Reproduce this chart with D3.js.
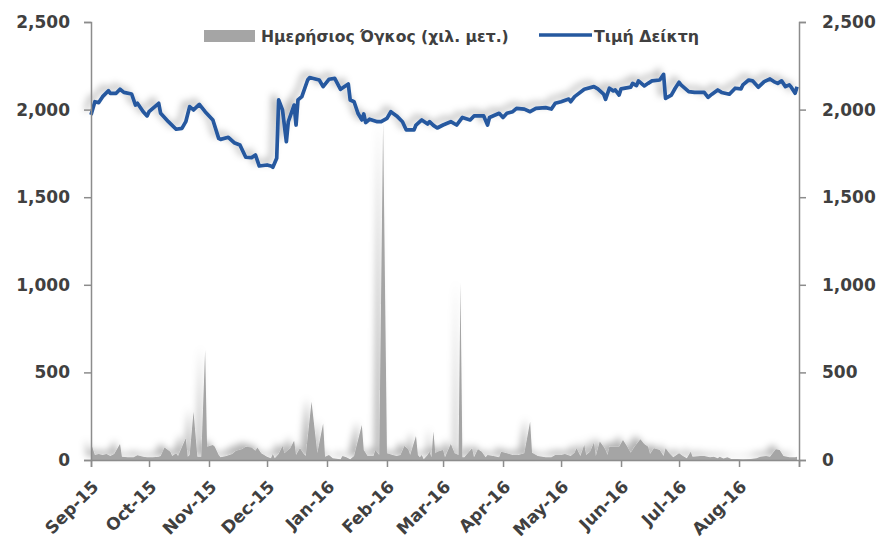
<!DOCTYPE html>
<html>
<head>
<meta charset="utf-8">
<script src="https://cdn.jsdelivr.net/npm/d3@7"></script>
<style>
  body { margin: 0; background: #fff; }
  svg text { font-family: "DejaVu Sans", sans-serif; font-weight: bold; fill: #404040; }
</style>
</head>
<body>
<svg id="chart" width="879" height="540"></svg>
<script>
// Τιμή Δείκτη (index value)
var priceDates = [
  "2015-09-01","2015-09-03","2015-09-05","2015-09-07","2015-09-10","2015-09-11","2015-09-14","2015-09-16","2015-09-18","2015-09-22","2015-09-24","2015-09-25","2015-09-28","2015-09-30",
  "2015-10-01","2015-10-06","2015-10-07","2015-10-11","2015-10-15","2015-10-18","2015-10-20","2015-10-22","2015-10-24","2015-10-27","2015-10-30",
  "2015-11-03","2015-11-06","2015-11-07","2015-11-11","2015-11-14","2015-11-17","2015-11-20","2015-11-23","2015-11-25","2015-11-27",
  "2015-12-01","2015-12-03","2015-12-04","2015-12-06","2015-12-07","2015-12-09","2015-12-11","2015-12-12","2015-12-15","2015-12-16","2015-12-17","2015-12-19","2015-12-22","2015-12-23","2015-12-28","2015-12-30",
  "2016-01-02","2016-01-05","2016-01-08","2016-01-12","2016-01-13","2016-01-15","2016-01-17","2016-01-19","2016-01-20","2016-01-21","2016-01-23","2016-01-27","2016-01-29",
  "2016-02-01","2016-02-03","2016-02-06","2016-02-09","2016-02-11","2016-02-15","2016-02-16","2016-02-19","2016-02-22","2016-02-23","2016-02-25","2016-02-27",
  "2016-03-01","2016-03-05","2016-03-08","2016-03-11","2016-03-15","2016-03-17","2016-03-22","2016-03-24","2016-03-25","2016-03-30",
  "2016-04-01","2016-04-03","2016-04-06","2016-04-08","2016-04-12","2016-04-15","2016-04-18","2016-04-23","2016-04-26","2016-04-28",
  "2016-05-01","2016-05-05","2016-05-06","2016-05-08","2016-05-13","2016-05-18","2016-05-20","2016-05-23","2016-05-24","2016-05-26","2016-05-28","2016-05-29","2016-05-31",
  "2016-06-01","2016-06-06","2016-06-07","2016-06-09","2016-06-10","2016-06-13","2016-06-15","2016-06-17","2016-06-21","2016-06-23","2016-06-24","2016-06-27","2016-06-29",
  "2016-07-01","2016-07-02","2016-07-06","2016-07-09","2016-07-14","2016-07-16","2016-07-18","2016-07-21","2016-07-23","2016-07-27","2016-07-30",
  "2016-08-02","2016-08-03","2016-08-06","2016-08-08","2016-08-11","2016-08-14","2016-08-17","2016-08-19","2016-08-21","2016-08-23","2016-08-25","2016-08-27","2016-08-28","2016-08-30","2016-08-31"
];
var priceValues = [
  1970,2045,2040,2074,2108,2093,2093,2116,2098,2089,2026,2036,1988,1964,
  1988,2036,1979,1931,1888,1893,1931,2017,1998,2030,1988,
  1941,1836,1830,1842,1811,1798,1728,1726,1741,1678,
  1684,1678,1671,1722,2055,1998,1817,1931,2026,1912,2055,2074,2169,2183,2169,2131,
  2173,2178,2116,2146,2055,2045,1979,1941,1975,1926,1945,1931,1931,
  1950,1988,1964,1931,1884,1884,1912,1941,1918,1931,1910,1895,
  1912,1931,1912,1955,1941,1964,1964,1912,1955,1979,
  1955,1979,1988,2007,2003,1988,2007,2011,2003,2036,
  2045,2060,2045,2074,2116,2131,2118,2088,2059,2122,2107,2112,2083,
  2118,2128,2150,2137,2164,2135,2150,2164,2169,2201,2064,2083,2122,
  2156,2141,2103,2098,2098,2070,2088,2112,2098,2088,2122,
  2118,2141,2169,2164,2128,2160,2175,2160,2150,2164,2131,2141,2128,2093,2131
];

// Ημερήσιος Όγκος (daily volume, thousand shares)
var volumeDates = [
  "2015-09-01","2015-09-03","2015-09-05","2015-09-07","2015-09-09","2015-09-11","2015-09-13","2015-09-16","2015-09-17","2015-09-20","2015-09-23","2015-09-25","2015-09-28","2015-09-30",
  "2015-10-03","2015-10-06","2015-10-07","2015-10-09","2015-10-12","2015-10-13","2015-10-15","2015-10-16","2015-10-20","2015-10-21","2015-10-22","2015-10-24","2015-10-26","2015-10-28","2015-10-30","2015-10-31",
  "2015-11-03","2015-11-04","2015-11-06","2015-11-07","2015-11-10","2015-11-13","2015-11-15","2015-11-18","2015-11-20","2015-11-23","2015-11-25","2015-11-26","2015-11-28",
  "2015-12-01","2015-12-03","2015-12-04","2015-12-05","2015-12-07","2015-12-09","2015-12-10","2015-12-13","2015-12-15","2015-12-16","2015-12-18","2015-12-20","2015-12-21","2015-12-24","2015-12-27","2015-12-30","2015-12-31",
  "2016-01-02","2016-01-04","2016-01-08","2016-01-09","2016-01-11","2016-01-13","2016-01-15","2016-01-16","2016-01-19","2016-01-20","2016-01-22","2016-01-25","2016-01-26","2016-01-28","2016-01-30",
  "2016-02-01","2016-02-04","2016-02-06","2016-02-08","2016-02-10","2016-02-12","2016-02-13","2016-02-16","2016-02-17","2016-02-18","2016-02-19","2016-02-20","2016-02-22","2016-02-23","2016-02-24","2016-02-25","2016-02-26","2016-02-27",
  "2016-03-01","2016-03-02","2016-03-05","2016-03-07","2016-03-09","2016-03-10","2016-03-11","2016-03-12","2016-03-16","2016-03-17","2016-03-19","2016-03-21","2016-03-23","2016-03-24","2016-03-27","2016-03-30","2016-03-31",
  "2016-04-03","2016-04-06","2016-04-09","2016-04-12","2016-04-15","2016-04-16","2016-04-19","2016-04-23","2016-04-26","2016-04-28",
  "2016-05-01","2016-05-03","2016-05-06","2016-05-08","2016-05-09","2016-05-11","2016-05-13","2016-05-14","2016-05-16","2016-05-18","2016-05-19","2016-05-21","2016-05-23","2016-05-24","2016-05-25","2016-05-26","2016-05-31",
  "2016-06-02","2016-06-04","2016-06-06","2016-06-08","2016-06-11","2016-06-13","2016-06-15","2016-06-16","2016-06-18","2016-06-21","2016-06-23","2016-06-24","2016-06-26","2016-06-28",
  "2016-07-01","2016-07-03","2016-07-05","2016-07-07","2016-07-08","2016-07-12","2016-07-14","2016-07-17","2016-07-19","2016-07-21","2016-07-22","2016-07-24","2016-07-26","2016-07-28","2016-07-31",
  "2016-08-03","2016-08-07","2016-08-10","2016-08-12","2016-08-15","2016-08-17","2016-08-20","2016-08-22","2016-08-24","2016-08-27","2016-08-30","2016-08-31"
];
var volumeValues = [
  95,29,34,29,34,23,34,91,19,15,15,27,19,15,
  15,19,23,72,47,23,38,23,124,19,29,276,19,19,628,76,
  86,76,29,15,23,34,53,61,76,72,53,72,38,
  19,10,34,10,34,80,38,67,110,29,67,34,23,333,38,209,19,
  29,10,4,23,15,4,23,67,200,57,23,23,57,29,1925,
  38,29,23,29,80,61,29,137,29,15,29,4,29,47,15,162,38,47,
  57,15,91,38,29,1010,15,15,67,15,61,47,15,29,23,15,47,
  38,29,29,38,219,42,23,15,15,29,
  29,34,23,42,67,23,86,29,47,99,23,105,76,57,29,76,76,
  114,80,42,76,118,91,76,34,67,57,23,67,38,15,
  38,23,10,47,19,23,23,15,19,10,19,8,15,6,6,
  4,6,10,19,23,19,61,57,23,15,15,19
];

var yTicks = [0, 500, 1000, 1500, 2000, 2500];
var legendNames = ["Ημερήσιος Όγκος (χιλ. μετ.)", "Τιμή Δείκτη"];

var parseDate = d3.timeParse("%Y-%m-%d");
var price = priceDates.map(function(d, i) { return {date: parseDate(d), value: priceValues[i]}; });
var volume = volumeDates.map(function(d, i) { return {date: parseDate(d), value: volumeValues[i]}; });

var svg = d3.select("#chart");
var plot = {l: 91, r: 799, t: 22, b: 460};

var xScale = d3.scaleTime()
    .domain([parseDate("2015-09-01"), parseDate("2016-09-01")])
    .range([plot.l, plot.r]);

var yScale = d3.scaleLinear()
    .domain([0, 2500])
    .range([plot.b, plot.t]);

// soft shadow like the spreadsheet's effect
var defs = svg.append("defs");
var shadow = defs.append("filter").attr("id", "shadow")
    .attr("x", "-10%").attr("y", "-20%").attr("width", "120%").attr("height", "140%");
shadow.append("feGaussianBlur").attr("in", "SourceAlpha").attr("stdDeviation", 3.5).attr("result", "blur");
shadow.append("feOffset").attr("in", "blur").attr("dx", -5).attr("dy", -4).attr("result", "off");
shadow.append("feFlood").attr("flood-color", "#000").attr("flood-opacity", 0.3).attr("result", "col");
shadow.append("feComposite").attr("in", "col").attr("in2", "off").attr("operator", "in").attr("result", "sh");
var merge = shadow.append("feMerge");
merge.append("feMergeNode").attr("in", "sh");
merge.append("feMergeNode").attr("in", "SourceGraphic");

// volume area
var area = d3.area()
    .x(function(d) { return xScale(d.date); })
    .y0(yScale(0))
    .y1(function(d) { return yScale(d.value); });

svg.append("path")
    .datum(volume)
    .attr("d", area)
    .attr("fill", "#a5a5a5")
    .attr("filter", "url(#shadow)");

// price line
var line = d3.line()
    .x(function(d) { return xScale(d.date); })
    .y(function(d) { return yScale(d.value); });

svg.append("path")
    .datum(price)
    .attr("d", line)
    .attr("fill", "none")
    .attr("stroke", "#25589f")
    .attr("stroke-width", 3.7)
    .attr("stroke-linejoin", "round")
    .attr("filter", "url(#shadow)");

// axes
var leftAxis = svg.append("g")
    .attr("transform", "translate(" + plot.l + ",0)")
    .call(d3.axisLeft(yScale).tickValues(yTicks).tickSize(7).tickPadding(14).tickFormat(d3.format(",")));

var rightAxis = svg.append("g")
    .attr("transform", "translate(" + plot.r + ",0)")
    .call(d3.axisRight(yScale).tickValues(yTicks).tickSize(7).tickPadding(16).tickFormat(d3.format(",")));

var monthTicks = d3.timeMonth.range(parseDate("2015-09-01"), parseDate("2016-09-02"));
var fmt = d3.timeFormat("%b-%y");
var bottomAxis = svg.append("g")
    .attr("transform", "translate(0," + plot.b + ")")
    .call(d3.axisBottom(xScale).tickValues(monthTicks).tickSize(7)
        .tickFormat(function(d, i) { return i < monthTicks.length - 1 ? fmt(d) : ""; }));

[leftAxis, rightAxis, bottomAxis].forEach(function(g) {
    g.select(".domain").attr("stroke", "#8c8c8c").attr("stroke-width", 1.5);
    g.selectAll(".tick line").attr("stroke", "#8c8c8c").attr("stroke-width", 1.5);
    g.selectAll("text").attr("font-size", 17).attr("fill", "#404040");
});

bottomAxis.selectAll("text")
    .attr("text-anchor", "end")
    .attr("dy", null)
    .attr("y", null)
    .attr("transform", "translate(8,28) rotate(-45)");

// legend
var legend = svg.append("g");
legend.append("rect")
    .attr("x", 204).attr("y", 30).attr("width", 51).attr("height", 12)
    .attr("fill", "#a5a5a5");
legend.append("text")
    .attr("x", 261).attr("y", 42)
    .attr("font-size", 15.6)
    .text(legendNames[0]);
legend.append("line")
    .attr("x1", 539).attr("x2", 592).attr("y1", 35).attr("y2", 35)
    .attr("stroke", "#25589f").attr("stroke-width", 3.7);
legend.append("text")
    .attr("x", 594).attr("y", 42)
    .attr("font-size", 15.8)
    .text(legendNames[1]);
</script>
</body>
</html>
